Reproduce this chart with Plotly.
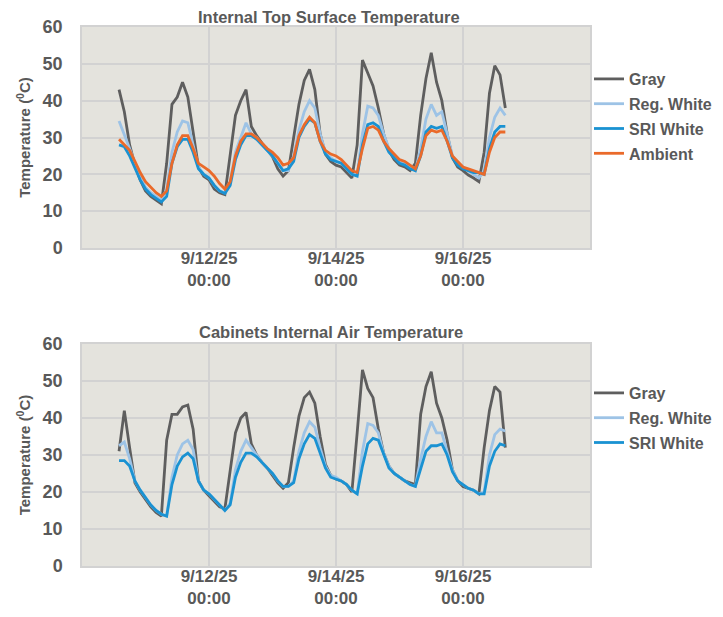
import pandas as pd
import plotly.graph_objects as go

# ---- data (2-hour steps starting 9/10/25 14:00) ----
start_time = "2025-09-10 14:00"

top_gray = [43, 37, 28, 22.5, 18.5, 15.5, 14, 13, 12, 23, 39, 41, 45, 41, 32, 22, 19.5, 18.5, 16, 15,
            14.5, 25, 36, 40, 43, 33, 30.5, 28.5, 26.5, 24.8, 21.5, 19.5, 21, 30, 39, 45.5, 48.5, 43, 31, 25.5,
            23.5, 22.5, 22, 20.5, 19, 28, 51, 47.5, 44, 38, 31, 26.5, 24, 22.5, 22, 21, 23, 36, 46, 53,
            45, 40, 31, 24.5, 22, 21, 19.8, 19, 18, 26, 42, 49.5, 47, 38]
top_regwhite = [34.5, 31, 27, 23, 19.5, 16.5, 15, 14, 13, 16, 26, 31.5, 34.5, 34, 28, 22, 20, 19, 17, 15.5,
                15, 18, 26, 30, 34, 31, 30, 28, 26.5, 25, 23, 21, 21, 25, 32, 37, 40, 38, 31, 26,
                24.5, 23.5, 23, 21.5, 20, 20, 31, 38.5, 38, 36, 31, 27, 25, 23.5, 23, 22, 21, 27, 35, 39,
                36, 37, 31, 25, 23, 22, 21, 20, 19, 21, 30, 35.5, 38, 36]
top_sriwhite = [28, 27.5, 25, 21.5, 18.5, 16, 14.5, 13.5, 12.5, 14, 23, 27.5, 29.5, 29.5, 26, 21.5, 20, 19, 17, 15.5,
                14.8, 17, 24, 28, 30.5, 30.5, 29.5, 28, 26.5, 25, 23, 21, 21.5, 23.5, 30, 33, 35, 34, 29, 25.5,
                24, 23.5, 23, 21.5, 20, 19.5, 28, 33.5, 34, 33, 29, 26, 24.5, 23, 22.5, 21.5, 21, 25, 31.5, 33,
                32.5, 33, 29, 24.5, 22.5, 21.5, 21, 20.5, 20.5, 20, 27, 31.5, 33, 33]
top_ambient = [29.5, 28, 26.5, 23.5, 20.5, 18, 16.5, 15, 14, 15.5, 23, 28, 30.5, 30.5, 27, 23, 22, 21, 19.5, 17.5,
               16, 18, 25, 29, 31, 31, 30, 28.5, 27, 26, 24.5, 22.5, 23, 24.5, 30.5, 33.5, 35.5, 34, 29, 26.5,
               25.5, 25, 24, 22.5, 21, 20.5, 27, 32.5, 33, 32, 29, 27, 25.5, 24, 23.5, 22.5, 21.5, 25, 30.5, 32,
               31.5, 32, 29, 25, 23.5, 22, 21.5, 21, 20.5, 20, 26, 30, 31.5, 31.5]

bot_gray = [31, 42, 32, 22.5, 20, 18, 16, 14.5, 13.5, 34, 41, 41, 43, 43.5, 37, 23, 20.5, 19, 17.5, 16,
            15.5, 26, 36, 40, 41.5, 33, 30, 28, 26.5, 24.5, 22.5, 21, 22.5, 32, 40.5, 45.5, 47, 44, 35, 27.5,
            24.5, 23.5, 23, 22, 20, 36, 53, 48, 45.5, 37, 30.5, 27, 25, 24, 23, 22.5, 22, 41, 48.5, 52.5,
            44, 40, 34, 26, 23, 21.5, 21, 20.5, 19.5, 32, 42, 48.5, 47, 32]
bot_regwhite = [32.5, 33.5, 29, 23, 20.5, 18.5, 16.5, 15, 14, 13.5, 24, 30, 33, 34, 31.5, 23, 20.5, 19.5, 18, 16.5,
                15, 17, 26, 31, 34, 32, 30, 28, 26.5, 25, 23, 21.5, 21.5, 23, 31, 36, 39, 37.5, 32, 27,
                24.5, 24, 23, 22, 20.5, 19.5, 31, 38.5, 38, 36, 30.5, 27, 25, 24, 23, 22, 21.5, 29, 35, 39,
                36, 36, 31, 26, 23, 22, 21, 20.5, 19.5, 20, 30, 35.5, 37, 36.5]
bot_sriwhite = [28.5, 28.5, 27, 23, 20.5, 18.5, 16.5, 15, 14, 13.5, 22, 27, 29.5, 30.5, 29, 23, 20.5, 19.5, 18, 16.5,
                15, 16.5, 24, 28, 30.5, 30.5, 29.5, 28, 26.5, 25, 23, 21.5, 21.5, 22.5, 29, 33, 35.5, 34.5, 30.5, 26.5,
                24, 23.5, 23, 22, 20.5, 19.5, 27, 33, 34.5, 34, 30, 26.5, 25, 24, 23, 22, 21.5, 26, 31, 32.5,
                32.5, 33, 30, 25.5, 23, 22, 21, 20.5, 19.5, 19.5, 27, 31, 33, 32.5]

tick_dates = ["2025-09-12", "2025-09-14", "2025-09-16"]
tick_labels = ["9/12/25<br>00:00", "9/14/25<br>00:00", "9/16/25<br>00:00"]
x_range = ["2025-09-10", "2025-09-18"]

top_title = "Internal Top Surface Temperature"
bot_title = "Cabinets Internal Air Temperature"
y_title = "Temperature (<sup>0</sup>C)"

# ---- styles ----
colors = {"Gray": "#5E5E5E", "Reg. White": "#9DC3E6", "SRI White": "#1A92D2", "Ambient": "#EA6A2A"}
FONT = "Liberation Sans, Arial, sans-serif"
TXT = "#595959"
OFF = 8                      # page body margin of the browser
W, H = 723 - OFF, 617 - OFF
L, R, T, B = 82 - OFF, 590 - OFF, 27 - OFF, 566 - OFF   # plot-area box in figure pixels
PW, PH = R - L, B - T


def px_x(px):               # reference-screen pixel -> paper fraction
    return (px - OFF - L) / PW


def px_y(py):
    return (B - (py - OFF)) / PH


times = pd.date_range(start_time, periods=len(top_gray), freq="2h")

fig = go.Figure()
top_series = [("Gray", top_gray), ("Reg. White", top_regwhite), ("SRI White", top_sriwhite), ("Ambient", top_ambient)]
bot_series = [("Gray", bot_gray), ("Reg. White", bot_regwhite), ("SRI White", bot_sriwhite)]

for name, vals in top_series:
    fig.add_trace(go.Scatter(x=times, y=vals, mode="lines", name=name, legend="legend", legendgroup="t" + name,
                             line=dict(color=colors[name], width=2.8), xaxis="x", yaxis="y"))
for name, vals in bot_series:
    fig.add_trace(go.Scatter(x=times, y=vals, mode="lines", name=name, legend="legend2", legendgroup="b" + name,
                             line=dict(color=colors[name], width=2.8), xaxis="x2", yaxis="y2"))

xaxis_common = dict(type="date", range=x_range, tickvals=tick_dates, ticktext=tick_labels,
                    showgrid=True, gridcolor="#D2D2D2", gridwidth=1.5,
                    showline=True, linecolor="#D2D2D2", linewidth=1.5, mirror=True,
                    ticks="", tickfont=dict(family=FONT, size=17, color=TXT, weight="bold"),
                    ticklabelstandoff=-6,
                    domain=[0, 1], zeroline=False, automargin=False)
yaxis_common = dict(range=[0, 60], dtick=10, showgrid=True, gridcolor="#D2D2D2", gridwidth=1.5,
                    showline=True, linecolor="#D2D2D2", linewidth=1.5, mirror=True, zeroline=False,
                    ticks="", automargin=False, ticklabelstandoff=14,
                    tickfont=dict(family=FONT, size=18, color=TXT, weight="bold"),
                    title=dict(text=y_title, font=dict(family=FONT, size=15, color=TXT, weight="bold"), standoff=8))

legend_common = dict(font=dict(family=FONT, size=16, color=TXT, weight="bold"), bgcolor="rgba(0,0,0,0)",
                     xanchor="left", yanchor="top", itemwidth=30, tracegroupgap=1)

fig.update_layout(
    width=W, height=H, margin=dict(l=L, r=W - R, t=T, b=H - B, autoexpand=False),
    paper_bgcolor="white", plot_bgcolor="#E4E3DD",
    xaxis=dict(anchor="y", **xaxis_common),
    yaxis=dict(anchor="x", domain=[px_y(248), 1], **yaxis_common),
    xaxis2=dict(anchor="y2", **xaxis_common),
    yaxis2=dict(anchor="x2", domain=[0, px_y(344)], **yaxis_common),
    legend=dict(x=px_x(589), y=px_y(62), **legend_common),
    legend2=dict(x=px_x(589), y=px_y(376), **legend_common),
    showlegend=True,
    annotations=[
        dict(text=top_title, x=px_x(329), y=px_y(17), xref="paper", yref="paper", showarrow=False,
             xanchor="center", yanchor="middle",
             font=dict(family=FONT, size=16.5, color=TXT, weight="bold")),
        dict(text=bot_title, x=px_x(331), y=px_y(332), xref="paper", yref="paper", showarrow=False,
             xanchor="center", yanchor="middle",
             font=dict(family=FONT, size=16.5, color=TXT, weight="bold")),
    ],
)

fig.write_html("out.html")
